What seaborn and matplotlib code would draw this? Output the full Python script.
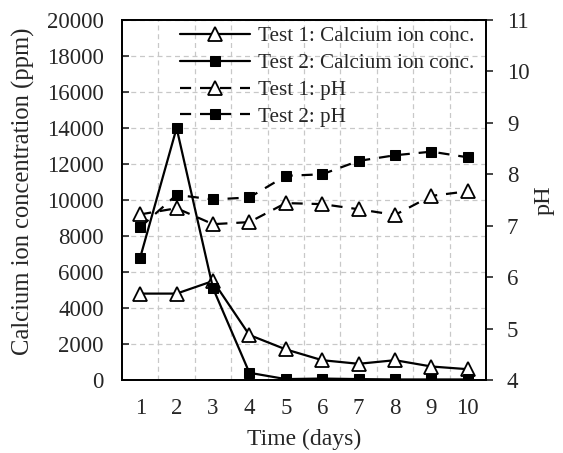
import matplotlib
matplotlib.use("Agg")
import matplotlib.pyplot as plt
import seaborn as sns
import pandas as pd
import numpy as np

days = [1, 2, 3, 4, 5, 6, 7, 8, 9, 10]
ca_test1 = [4800, 4800, 5500, 2500, 1700, 1100, 900, 1100, 750, 600]
ca_test2 = [6800, 14000, 5100, 400, 50, 80, 50, 30, 30, 30]
ph_test1 = [7.22, 7.34, 7.03, 7.07, 7.44, 7.42, 7.32, 7.21, 7.58, 7.67]
ph_test2 = [6.97, 7.60, 7.51, 7.55, 7.97, 8.00, 8.26, 8.37, 8.44, 8.33]
y_ticks = [0, 2000, 4000, 6000, 8000, 10000, 12000, 14000, 16000, 18000, 20000]
ph_ticks = [4, 5, 6, 7, 8, 9, 10, 11]

sns.set_style("white")
plt.rcParams['font.family'] = ['Liberation Serif', 'DejaVu Serif']
plt.rcParams['font.size'] = 16

fig = plt.figure(figsize=(5.63, 4.53), dpi=100)
ax = fig.add_axes([122/563, 1-380/453, (486-122)/563, (380-20)/453])
ax2 = ax.twinx()

df = pd.DataFrame({"day": days, "ca1": ca_test1, "ca2": ca_test2, "ph1": ph_test1, "ph2": ph_test2})

kw_tri = dict(marker='^', markersize=10, markerfacecolor='white', markeredgecolor='black', markeredgewidth=1.3, color='black', linewidth=1.6)
kw_sq = dict(marker='s', markersize=7.5, markerfacecolor='black', markeredgecolor='black', color='black', linewidth=1.6)

sns.lineplot(data=df, x="day", y="ca1", ax=ax, label="Test 1: Calcium ion conc.", legend=False, **kw_tri)
sns.lineplot(data=df, x="day", y="ca2", ax=ax, label="Test 2: Calcium ion conc.", legend=False, **kw_sq)
sns.lineplot(data=df, x="day", y="ph1", ax=ax2, label="Test 1: pH", legend=False, linestyle=(0, (5, 4)), **kw_tri)
sns.lineplot(data=df, x="day", y="ph2", ax=ax2, label="Test 2: pH", legend=False, linestyle=(0, (5, 4)), **kw_sq)

ax.set_xlim(0.5, 10.5)
ax.set_ylim(0, 20000)
ax2.set_ylim(4, 11)
ax.set_yticks(y_ticks)
ax.set_yticklabels([str(v) for v in y_ticks])
ax2.set_yticks(ph_ticks)
ax2.set_yticklabels([str(v) for v in ph_ticks])

ax.set_xticks(days)
ax.set_xticklabels([str(d) for d in days])
ax.set_xticks(np.arange(1.5, 10.5, 1.0), minor=True)
ax.tick_params(axis='x', which='major', length=0, pad=13, labelsize=16.5)
ax.tick_params(axis='x', which='minor', direction='in', length=5, width=1.2)
ax.tick_params(axis='y', direction='in', length=5, width=1.2, pad=13, labelsize=16.5)
ax2.tick_params(axis='y', direction='out', length=5, width=1.2, pad=10, labelsize=16.5)

ax.grid(False)
ax.xaxis.grid(True, which='minor', linestyle=(0, (4, 3)), color='#c8c8c8', linewidth=0.9)
ax.yaxis.grid(True, which='major', linestyle=(0, (4, 3)), color='#c8c8c8', linewidth=0.9)
ax.set_axisbelow(True)
ax2.grid(False)

for a in (ax, ax2):
    for s in a.spines.values():
        s.set_visible(True)
        s.set_color('black')
        s.set_linewidth(1.3)

ax.set_xlabel("Time (days)", fontsize=17, labelpad=7)
ax.set_ylabel("Calcium ion concentration (ppm)", fontsize=17.7)
ax.yaxis.set_label_coords(-0.24, 0.525)
ax2.set_ylabel("pH", fontsize=17.5)
ax2.yaxis.set_label_coords(1.13, 0.5)

h1, l1 = ax.get_legend_handles_labels()
h2, l2 = ax2.get_legend_handles_labels()
leg = ax2.legend(h1 + h2, l1 + l2, loc='upper right', frameon=False, fontsize=15.2,
                 handlelength=3.3, handletextpad=0.35, labelspacing=0.33,
                 borderaxespad=0.0, bbox_to_anchor=(0.99, 1.005))

fig.savefig("out.png", dpi=100)
